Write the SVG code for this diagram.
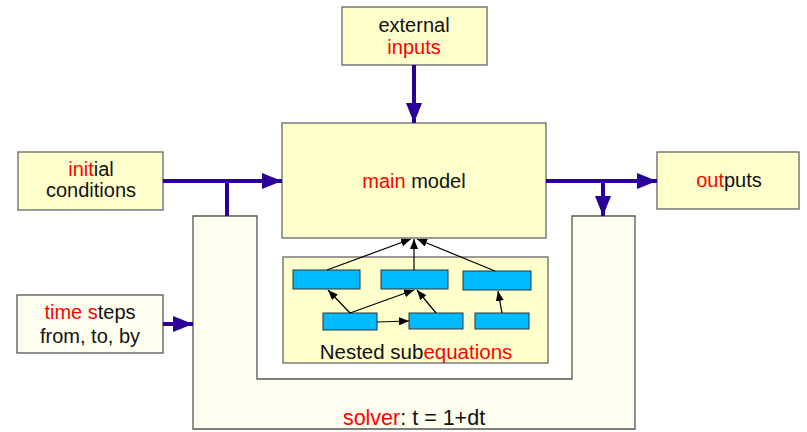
<svg xmlns="http://www.w3.org/2000/svg" width="807" height="432" viewBox="0 0 807 432">
  <style>
    .box { fill: #ffffcc; stroke: #666666; stroke-width: 1.3; }
    .pale { fill: #fffff0; stroke: #555555; stroke-width: 1.3; }
    .eq { fill: #00bbff; stroke: #333333; stroke-width: 1; }
    text { font-family: "Liberation Sans", Arial, sans-serif; font-size: 20px; fill: #111111; text-anchor: middle; }
    .red { fill: #ff0000; }
    .flow { stroke: #2a0099; stroke-width: 4; fill: none; }
    .dep { stroke: #000000; stroke-width: 1.2; fill: none; }
  </style>
  <defs>
    <marker id="bigHead" viewBox="0 0 20 16" refX="20" refY="8" markerWidth="20" markerHeight="16" markerUnits="userSpaceOnUse" orient="auto">
      <path d="M0,0 L20,8 L0,16 Z" fill="#2a0099"/>
    </marker>
    <marker id="smallHead" viewBox="0 0 10 8" refX="10" refY="4" markerWidth="10" markerHeight="8" markerUnits="userSpaceOnUse" orient="auto">
      <path d="M0,0 L10,4 L0,8 Z" fill="#000000"/>
    </marker>
  </defs>

  <!-- solver frame wrapping the model -->
  <g id="solver">
    <path class="pale" d="M193,216 H257 V379 H572 V216 H635 V429 H193 Z"/>
    <text x="414" y="425" style="font-size:21.5px"><tspan class="red">solver</tspan>: t = 1+dt</text>
  </g>

  <g id="external-inputs">
    <rect class="box" x="342" y="7" width="145" height="58"/>
    <text x="414" y="32">external</text>
    <text x="414" y="54" class="red">inputs</text>
  </g>

  <g id="initial-conditions">
    <rect class="box" x="18" y="152" width="145" height="58"/>
    <text x="91" y="176"><tspan class="red">init</tspan>ial</text>
    <text x="91" y="197">conditions</text>
  </g>

  <g id="time-steps">
    <rect class="pale" x="17" y="295" width="146" height="58"/>
    <text x="90" y="319"><tspan class="red">time s</tspan>teps</text>
    <text x="90" y="343">from, to, by</text>
  </g>

  <g id="outputs">
    <rect class="box" x="657" y="152" width="142" height="57"/>
    <text x="729" y="187"><tspan class="red">out</tspan>puts</text>
  </g>

  <g id="main-model">
    <rect class="box" x="282" y="123" width="264" height="115"/>
    <text x="414" y="188"><tspan class="red">main</tspan> model</text>
  </g>

  <g id="nested-subequations">
    <rect class="box" x="283" y="257" width="265" height="106"/>
    <text x="416" y="359" style="font-size:20.5px">Nested sub<tspan class="red">equations</tspan></text>
    <rect id="eq1" class="eq" x="293" y="270" width="67" height="19"/>
    <rect id="eq2" class="eq" x="381" y="270" width="67" height="19"/>
    <rect id="eq3" class="eq" x="463" y="271" width="68" height="19"/>
    <rect id="eq4" class="eq" x="323" y="313" width="54" height="17"/>
    <rect id="eq5" class="eq" x="409" y="313" width="54" height="16"/>
    <rect id="eq6" class="eq" x="475" y="313" width="54" height="16"/>
  </g>

  <g id="connectors">
    <!-- main flow -->
    <line class="flow" x1="414" y1="65" x2="414" y2="123" marker-end="url(#bigHead)"/>
    <line class="flow" x1="163" y1="181" x2="282" y2="181" marker-end="url(#bigHead)"/>
    <line class="flow" x1="227" y1="181" x2="227" y2="216"/>
    <line class="flow" x1="163" y1="324" x2="193" y2="324" marker-end="url(#bigHead)"/>
    <line class="flow" x1="546" y1="181" x2="657" y2="181" marker-end="url(#bigHead)"/>
    <line class="flow" x1="603" y1="181" x2="603" y2="216" marker-end="url(#bigHead)"/>
    <!-- dependencies between sub-equations -->
    <line class="dep" x1="327" y1="270" x2="411" y2="239" marker-end="url(#smallHead)"/>
    <line class="dep" x1="414" y1="270" x2="414" y2="239" marker-end="url(#smallHead)"/>
    <line class="dep" x1="495" y1="271" x2="417" y2="239" marker-end="url(#smallHead)"/>
    <line class="dep" x1="350" y1="313" x2="328" y2="290" marker-end="url(#smallHead)"/>
    <line class="dep" x1="350" y1="313" x2="414" y2="290" marker-end="url(#smallHead)"/>
    <line class="dep" x1="436" y1="313" x2="417" y2="290" marker-end="url(#smallHead)"/>
    <line class="dep" x1="377" y1="322" x2="409" y2="321" marker-end="url(#smallHead)"/>
    <line class="dep" x1="502" y1="313" x2="498" y2="291" marker-end="url(#smallHead)"/>
  </g>
</svg>
